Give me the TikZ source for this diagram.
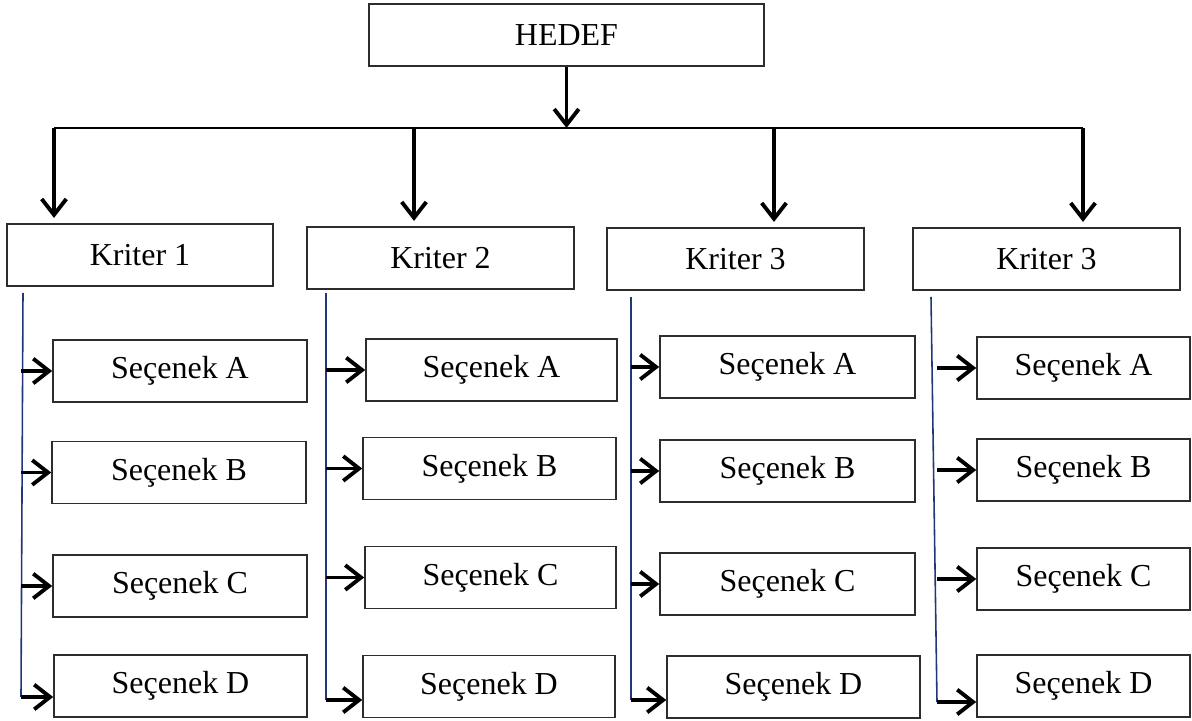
\documentclass[tikz,border=0pt]{standalone}
\usepackage{fontspec}
\setmainfont{Liberation Serif}
\usetikzlibrary{arrows.meta}
\usepackage{xcolor}
\definecolor{lacivert}{RGB}{32,56,120}
\definecolor{kenar}{RGB}{45,45,45}

\begin{document}
\begin{tikzpicture}[>={Straight Barb[length=9pt,width=14pt]},font=\fontsize{18.2}{21}\selectfont,
  kutu/.style={draw=kenar,line width=0.9pt,minimum height=1.24cm,inner sep=0pt},
  ok/.style={->,line width=2.2pt},
  dikey/.style={lacivert,line width=0.9pt}]
\useasboundingbox (0,0) rectangle (23.84,14.4);
\node[kutu,minimum width=7.9cm] (hedef) at (11.33,13.70) {HEDEF};
\node[kutu,minimum width=5.32cm] (k1) at (2.80,9.30) {Kriter 1};
\node[kutu,minimum width=5.34cm] (k2) at (8.81,9.24) {Kriter 2};
\node[kutu,minimum width=5.14cm] (k3) at (14.71,9.22) {Kriter 3};
\node[kutu,minimum width=5.34cm] (k4) at (20.93,9.22) {Kriter 3};
% first column
\node[kutu,minimum width=5.08cm] (a1) at (3.60,6.98) {Seçenek A};
\node[kutu,minimum width=5.08cm] (b1) at (3.58,4.95) {Seçenek B};
\node[kutu,minimum width=5.08cm] (c1) at (3.60,2.68) {Seçenek C};
\node[kutu,minimum width=5.06cm] (d1) at (3.61,0.68) {Seçenek D};
% second column
\node[kutu,minimum width=5.02cm] (a2) at (9.83,7.00) {Seçenek A};
\node[kutu,minimum width=5.06cm] (b2) at (9.79,5.03) {Seçenek B};
\node[kutu,minimum width=5.02cm] (c2) at (9.81,2.85) {Seçenek C};
\node[kutu,minimum width=5.04cm] (d2) at (9.78,0.67) {Seçenek D};
% third column
\node[kutu,minimum width=5.10cm] (a3) at (15.75,7.06) {Seçenek A};
\node[kutu,minimum width=5.10cm] (b3) at (15.75,4.98) {Seçenek B};
\node[kutu,minimum width=5.10cm] (c3) at (15.75,2.72) {Seçenek C};
\node[kutu,minimum width=5.06cm] (d3) at (15.87,0.66) {Seçenek D};
% fourth column
\node[kutu,minimum width=4.26cm] (a4) at (21.67,7.04) {Seçenek A};
\node[kutu,minimum width=4.26cm] (b4) at (21.67,5.00) {Seçenek B};
\node[kutu,minimum width=4.26cm] (c4) at (21.67,2.82) {Seçenek C};
\node[kutu,minimum width=4.26cm] (d4) at (21.67,0.68) {Seçenek D};
% bar under the goal
\coordinate (u1) at (1.08,11.84);
\coordinate (u2) at (8.28,11.84);
\coordinate (u3) at (15.48,11.84);
\coordinate (u4) at (21.66,11.84);
\draw[line width=1.6pt] (u1) -- (u4);
\draw[ok] (hedef.south) -- (hedef.south |- u1);
\draw[ok,shorten >=3pt] (u1) -- (u1 |- k1.north);
\draw[ok,shorten >=3pt] (u2) -- (u2 |- k2.north);
\draw[ok,shorten >=3pt] (u3) -- (u3 |- k3.north);
\draw[ok,shorten >=3pt] (u4) -- (u4 |- k4.north);
% lines under the criteria
\coordinate (v1t) at (0.46,8.54);
\coordinate (v1b) at (0.42,0.46);
\coordinate (v2t) at (6.52,8.54);
\coordinate (v2b) at (6.52,0.40);
\coordinate (v3t) at (12.62,8.46);
\coordinate (v3b) at (12.62,0.40);
\coordinate (v4t) at (18.62,8.46);
\coordinate (v4b) at (18.74,0.36);
\draw[dikey] (v1t) -- (v1b);
\draw[dikey] (v2t) -- (v2b);
\draw[dikey] (v3t) -- (v3b);
\draw[dikey] (v4t) -- (v4b);
\draw[ok] (v1b |- a1.west) -- (a1.west);
\draw[ok] (v1b |- b1.west) -- (b1.west);
\draw[ok] (v1b |- c1.west) -- (c1.west);
\draw[ok] (v1b) -- (v1b -| d1.west);
\draw[ok] (v2b |- a2.west) -- (a2.west);
\draw[ok] (v2b |- b2.west) -- (b2.west);
\draw[ok] (v2b |- c2.west) -- (c2.west);
\draw[ok] (v2b) -- (v2b -| d2.west);
\draw[ok] (v3b |- a3.west) -- (a3.west);
\draw[ok] (v3b |- b3.west) -- (b3.west);
\draw[ok] (v3b |- c3.west) -- (c3.west);
\draw[ok] (v3b) -- (v3b -| d3.west);
\draw[ok] (v4b |- a4.west) -- (a4.west);
\draw[ok] (v4b |- b4.west) -- (b4.west);
\draw[ok] (v4b |- c4.west) -- (c4.west);
\draw[ok] (v4b) -- (v4b -| d4.west);
\end{tikzpicture}
\end{document}
